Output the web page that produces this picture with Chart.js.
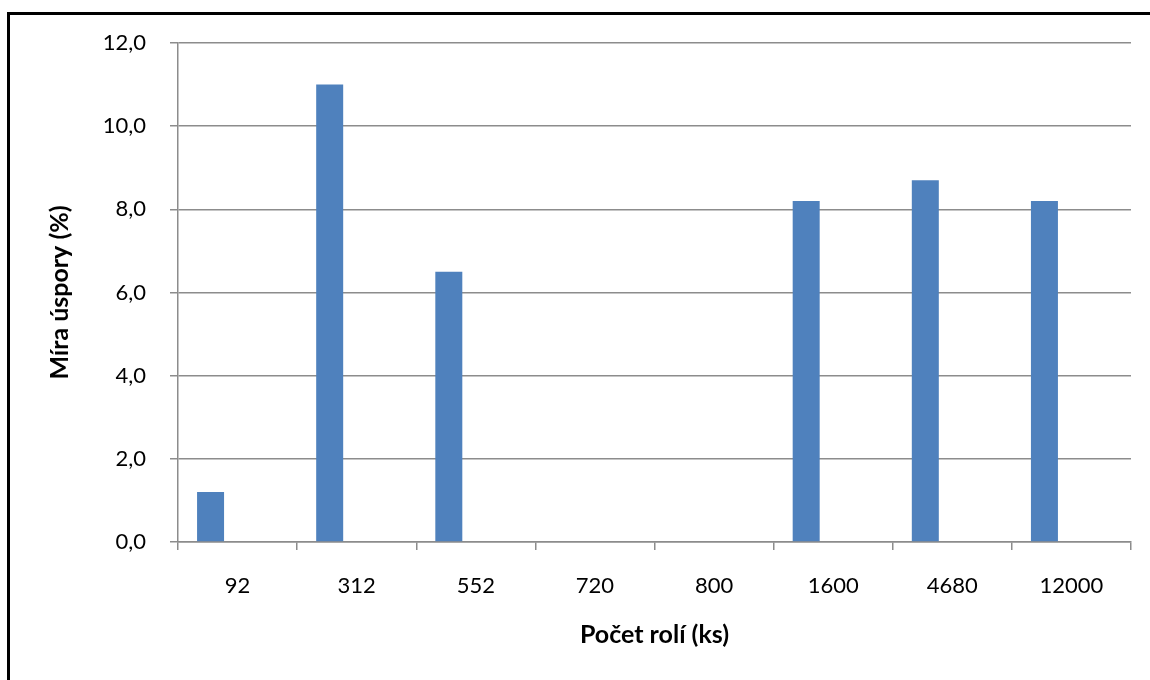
<!DOCTYPE html>
<html lang="cs">
<head>
<meta charset="utf-8">
<title>Míra úspory podle počtu rolí</title>
<script src="https://cdn.jsdelivr.net/npm/chart.js@4.4.1/dist/chart.umd.min.js"></script>
<style>
  html, body { margin: 0; padding: 0; background: #ffffff; }
  body { width: 1150px; height: 680px; position: relative; overflow: hidden; }
  #frame {
    position: absolute; left: 7px; top: 12px;
    width: 1200px; height: 720px;
    border-left: 3px solid #000; border-top: 3px solid #000;
    box-sizing: border-box;
  }
  #wrap { position: absolute; left: 0; top: 0; width: 1150px; height: 680px; }
</style>
</head>
<body>
<div id="frame"></div>
<div id="wrap"><canvas id="chart" width="1150" height="680"></canvas></div>
<script>
// Počet rolí (ks) and the saving rate for each batch size
const categories = ['92', '312', '552', '720', '800', '1600', '4680', '12000'];
const savings = [1.2, 11.0, 6.5, 0, 0, 8.2, 8.7, 8.2];
// two further series reserve their slots in each group but carry no values
const emptySeriesA = [null, null, null, null, null, null, null, null];
const emptySeriesB = [null, null, null, null, null, null, null, null];
const yTicks = [0, 2, 4, 6, 8, 10, 12];

const FONT = 'Lato, "Open Sans", "DejaVu Sans", sans-serif';
const GRID = '#8c8c8c';
const BAR = '#4f81bd';

new Chart(document.getElementById('chart'), {
  type: 'bar',
  data: {
    labels: categories,
    datasets: [
      { label: 'Míra úspory', data: savings, backgroundColor: BAR, borderWidth: 0 },
      { label: 'B', data: emptySeriesA, backgroundColor: BAR, borderWidth: 0 },
      { label: 'C', data: emptySeriesB, backgroundColor: BAR, borderWidth: 0 }
    ]
  },
  options: {
    responsive: false,
    animation: false,
    events: [],
    layout: { padding: { left: 45, top: 43, right: 19, bottom: 30 } },
    datasets: { bar: { categoryPercentage: 0.68, barPercentage: 1.0 } },
    plugins: { legend: { display: false }, tooltip: { enabled: false } },
    scales: {
      x: {
        offset: true,
        grid: { offset: true, drawOnChartArea: false, drawTicks: true, tickLength: 8, color: GRID, lineWidth: 1.5 },
        border: { display: true, color: GRID, width: 1.5 },
        ticks: { color: '#000', font: { family: FONT, size: 22 }, padding: 23, maxRotation: 0, autoSkip: false },
        title: { display: true, text: 'Počet rolí (ks)', color: '#000', font: { family: FONT, size: 25, weight: 'bold', lineHeight: 1.2 }, padding: 0 },
        afterFit(scale) { scale.height = 108; }
      },
      y: {
        min: 0, max: 12,
        afterBuildTicks(scale) { scale.ticks = yTicks.map(v => ({ value: v })); },
        grid: { color: GRID, lineWidth: 1.5, drawTicks: true, tickLength: 8 },
        border: { display: true, color: GRID, width: 1.5 },
        ticks: {
          color: '#000', font: { family: FONT, size: 22 }, padding: 24,
          callback: v => Number(v).toFixed(1).replace('.', ',')
        },
        title: { display: true, text: 'Míra úspory (%)', color: '#000', font: { family: FONT, size: 25, weight: 'bold', lineHeight: 1.2 }, padding: 0 },
        afterFit(scale) { scale.width = 133; }
      }
    }
  }
});
</script>
</body>
</html>
